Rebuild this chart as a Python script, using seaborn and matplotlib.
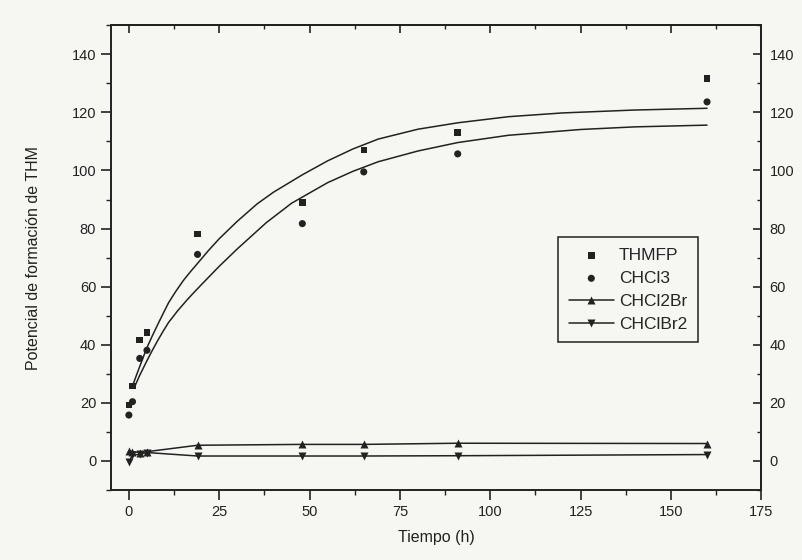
import matplotlib
matplotlib.use("Agg")
import matplotlib.pyplot as plt
from matplotlib.ticker import MultipleLocator
import pandas as pd
import seaborn as sns

# measured points
tiempo = [0, 1, 3, 5, 19, 48, 65, 91, 160]
thmfp = [19.3, 25.8, 41.6, 44.2, 78.2, 88.9, 107.0, 113.0, 131.6]
chcl3 = [15.8, 20.4, 35.3, 38.1, 71.1, 81.7, 99.5, 105.7, 123.6]
chcl2br = [3.4, 3.2, 2.9, 3.2, 5.4, 5.7, 5.7, 6.1, 6.0]
chclbr2 = [-0.3, 2.0, 2.3, 2.9, 1.7, 1.7, 1.7, 1.8, 2.2]

# fitted curves
t_fit_thm = [1, 2, 3, 4, 5, 6.5, 8, 9.5, 11, 13, 15, 17, 19, 22, 25, 30,
             35.5, 40, 48, 55, 62, 69, 80, 91, 105, 120, 140, 160]
fit_thm = [25.8, 29.2, 32.5, 35.8, 39, 43.1, 47, 50.8, 54.5, 58.4, 62, 65.1,
           68, 72.4, 76.5, 82.5, 88.5, 92.5, 98.5, 103.3, 107.4, 110.8, 114.2,
           116.4, 118.5, 119.8, 120.8, 121.4]
t_fit_cl3 = [1.4, 3, 5, 6.5, 8, 9.5, 11, 13.5, 16, 18, 20, 25, 30, 38, 45, 55,
             62, 69, 80, 91, 105, 125, 140, 160]
fit_cl3 = [25, 29.5, 34.5, 38.1, 41.5, 44.7, 47.7, 51.7, 55.3, 58, 60.6, 67,
           73, 82, 88.7, 95.8, 99.7, 103, 106.7, 109.6, 112.1, 114.1, 115,
           115.6]

sns.set_style("ticks")
plt.rcParams['font.family'] = ['Liberation Sans', 'DejaVu Sans']

ink = '#222222'
paper = '#f6f6f2'

fig = plt.figure(figsize=(8.03, 5.6), dpi=100, facecolor=paper)
ax = fig.add_axes([0.138, 0.125, 0.810, 0.830])
ax.set_facecolor(paper)

pts = pd.DataFrame({"t": tiempo, "THMFP": thmfp, "CHCl3": chcl3,
                    "CHCl2Br": chcl2br, "CHClBr2": chclbr2})

sns.lineplot(x=t_fit_thm, y=fit_thm, color=ink, lw=1.1, ax=ax)
sns.lineplot(x=t_fit_cl3, y=fit_cl3, color=ink, lw=1.1, ax=ax)

sns.scatterplot(data=pts, x="t", y="THMFP", marker='s', s=22, color=ink,
                edgecolor='none', ax=ax, label='THMFP')
sns.scatterplot(data=pts, x="t", y="CHCl3", marker='o', s=26, color=ink,
                edgecolor='none', ax=ax, label='CHCl3')
sns.lineplot(data=pts, x="t", y="CHCl2Br", marker='^', markersize=6,
             markeredgecolor='none', color=ink, lw=1.1, ax=ax,
             label='CHCl2Br')
sns.lineplot(data=pts, x="t", y="CHClBr2", marker='v', markersize=6,
             markeredgecolor='none', color=ink, lw=1.1, ax=ax,
             label='CHClBr2')

ax.set_xlim(-5, 175)
ax.set_ylim(-10, 150)
ax.xaxis.set_major_locator(MultipleLocator(25))
ax.xaxis.set_minor_locator(MultipleLocator(12.5))
ax.set_yticks(range(0, 141, 20))
ax.yaxis.set_minor_locator(MultipleLocator(10))

ax.tick_params(which='both', direction='out', top=False, right=False,
               colors=ink, labelsize=10.5)
ax.tick_params(which='major', length=7, width=1.2)
ax.tick_params(which='minor', length=3.5, width=1.0)

# top and right: ticks pointing inward, labels only on the right
top = ax.secondary_xaxis('top')
top.xaxis.set_major_locator(MultipleLocator(25))
top.xaxis.set_minor_locator(MultipleLocator(12.5))
top.tick_params(which='both', direction='in', labeltop=False, colors=ink)
top.tick_params(which='major', length=6, width=1.2)
top.tick_params(which='minor', length=3, width=1.0)

right = ax.secondary_yaxis('right')
right.set_yticks(range(0, 141, 20))
right.yaxis.set_minor_locator(MultipleLocator(10))
right.tick_params(which='both', direction='in', colors=ink, labelsize=10.5,
                  pad=6)
right.tick_params(which='major', length=6, width=1.2)
right.tick_params(which='minor', length=3, width=1.0)

for a in (ax, top, right):
    for s in a.spines.values():
        s.set_linewidth(1.4)
        s.set_color(ink)

ax.set_xlabel("Tiempo (h)", fontsize=11.5, color=ink, labelpad=8)
ax.set_ylabel("Potencial de formación de THM", fontsize=11.5,
              color=ink, labelpad=22)

leg = ax.legend(loc='lower left', bbox_to_anchor=(0.688, 0.318),
                borderaxespad=0, fancybox=False, framealpha=1,
                facecolor=paper, edgecolor=ink, fontsize=12.5,
                handlelength=2.6, handletextpad=0.3, borderpad=0.6,
                labelspacing=0.45)
leg.get_frame().set_linewidth(1.1)

fig.savefig("out.png", dpi=100, facecolor=fig.get_facecolor())
